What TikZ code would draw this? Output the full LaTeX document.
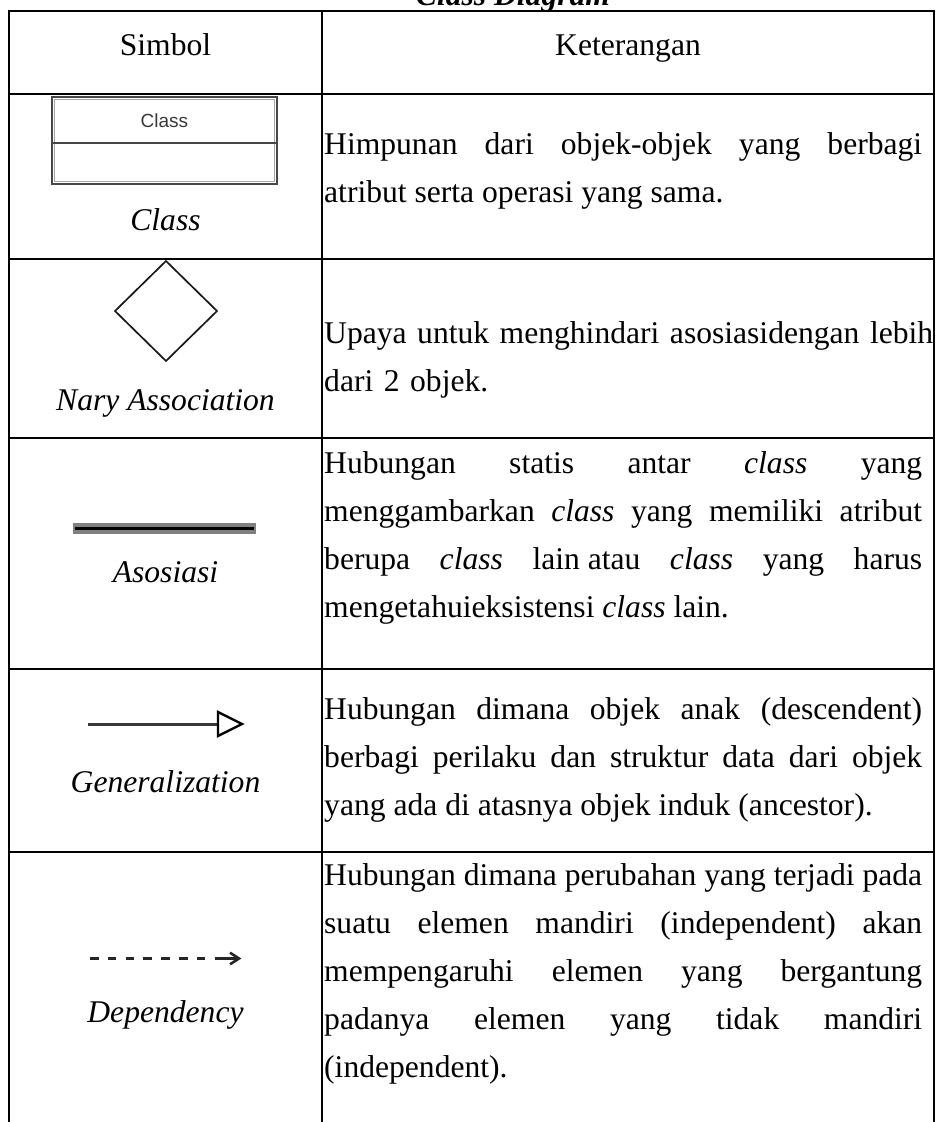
\documentclass[tikz,border=0pt]{standalone}
\usepackage{fontspec}
\setmainfont{Liberation Serif}
\newfontfamily\uifont{Liberation Sans}
\setlength{\parindent}{0pt}
\hyphenpenalty=10000
\exhyphenpenalty=10000
\tolerance=9999
% strut fixing the height of the first line of a description
\newcommand{\dstrut}{\rule{0pt}{26pt}}
\begin{document}
\begin{tikzpicture}[x=1pt,y=-1pt,
  gridline/.style={line width=2pt, line cap=rect},
  bodytext/.style={inner sep=0pt, font=\fontsize{31.6}{48}\selectfont},
  headtext/.style={bodytext, anchor=base},
  symlabel/.style={inner sep=0pt, anchor=base, font=\fontsize{31.6}{48}\selectfont\itshape},
  desc/.style={bodytext, anchor=north west, text width=598pt, align=justify},
  descleft/.style={bodytext, anchor=north west, text width=640pt, align=left},
  classframe/.style={draw=black!72, line width=2.6pt},
  classinner/.style={draw=black!35, line width=0.8pt},
  symline/.style={line width=1.7pt, draw=black!90, line join=miter},
  depstroke/.style={line width=3.6pt, black!85},
]
\useasboundingbox (0,0) rectangle (936,1122);

% caption above the table (partly outside the page)
\node[inner sep=0pt, anchor=base, font=\fontsize{31.6}{48}\selectfont\bfseries\itshape] (title) at (513,5) {Class Diagram};

% table grid
\draw[gridline] (9.3,11) -- (934,11);
\draw[gridline] (9.3,93.5) -- (934,93.5);
\draw[gridline] (9.3,259) -- (934,259);
\draw[gridline] (9.3,438) -- (934,438);
\draw[gridline] (9.3,669) -- (934,669);
\draw[gridline] (9.3,852) -- (934,852);
\draw[gridline] (9.3,11) -- (9.3,1122);
\draw[gridline] (322,11) -- (322,1122);
\draw[gridline] (934,11) -- (934,1122);

% header
\node[headtext] (hsym) at (165.5,55) {Simbol};
\node[headtext] (hket) at (628,55) {Keterangan};

% row 1: class
\draw[classframe] (52,97) rectangle (277,184);
\draw[classinner] (54.5,99.5) rectangle (274.5,181.5);
\draw[classframe] (52,143) -- (277,143);
\node[inner sep=0pt, font=\uifont\fontsize{19}{22}\selectfont, text=black!78] (clsname) at (164.5,121) {Class};
\node[symlabel] (lclass) at (165.5,230) {Class};
\node[desc] (dclass) at (324,128) {\dstrut Himpunan dari objek-objek yang berbagi\linebreak atribut serta operasi yang sama.};

% row 2: n-ary association
\draw[symline] (166,261) -- (217,311) -- (166,361) -- (115,311) -- cycle;
\node[symlabel] (lnary) at (165.5,410) {Nary Association};
\node[descleft] (dnary) at (324,317) {\dstrut Upaya untuk menghindari asosiasidengan lebih\\dari 2 objek.};

% row 3: association
\fill[black!50] (73.3,523.3) rectangle (255.7,533.7);
\coordinate (asA) at (75,528.5);
\coordinate (asB) at (254,528.5);
\draw[line width=3.7pt, black] (asA) -- (asB);
\node[symlabel] (lasos) at (165.5,582) {Asosiasi};
\node[desc] (dasos) at (324,447) {\dstrut Hubungan statis antar \textit{class} yang\linebreak
menggambarkan \textit{class} yang memiliki atribut\linebreak
berupa \textit{class} \hbox{lain atau} \textit{class} yang harus\linebreak
mengetahuieksistensi \textit{class} lain.};

% row 4: generalization
\coordinate (genA) at (88.3,724);
\coordinate (genB) at (218,724);
\coordinate (genU) at (218,712);
\coordinate (genT) at (242,724);
\coordinate (genD) at (218,736);
\draw[line width=3pt, black!78] (genA) -- (genB);
\draw[line width=2.4pt, black, fill=white, line join=miter] (genU) -- (genT) -- (genD) -- cycle;
\node[symlabel] (lgen) at (165.5,792) {Generalization};
\node[desc] (dgen) at (324,693) {\dstrut Hubungan dimana objek anak (descendent)\linebreak
berbagi perilaku dan struktur data dari objek\linebreak
yang ada di atasnya objek induk (ancestor).};

% row 5: dependency (seven dashes, then a short shaft into an open head)
\coordinate (depA) at (90,958.5);
\coordinate (depB) at (205.3,958.5);
\coordinate (depC) at (214.6,958.5);
\coordinate (depU) at (230,952.7);
\coordinate (depT) at (239,958.5);
\coordinate (depD) at (230,964.3);
\draw[depstroke, dash pattern=on 8.5pt off 9.3pt] (depA) -- (depB);
\draw[depstroke] (depC) -- (depT);
\draw[line width=2.6pt, black!85, line join=miter] (depU) -- (depT) -- (depD);
\node[symlabel] (ldep) at (165.5,1022) {Dependency};
\node[desc] (ddep) at (324,859) {\dstrut Hubungan dimana perubahan yang terjadi pada\linebreak
suatu elemen mandiri (independent) akan\linebreak
mempengaruhi elemen yang bergantung\linebreak
padanya elemen yang tidak mandiri\linebreak
(independent).};
\end{tikzpicture}
\end{document}
